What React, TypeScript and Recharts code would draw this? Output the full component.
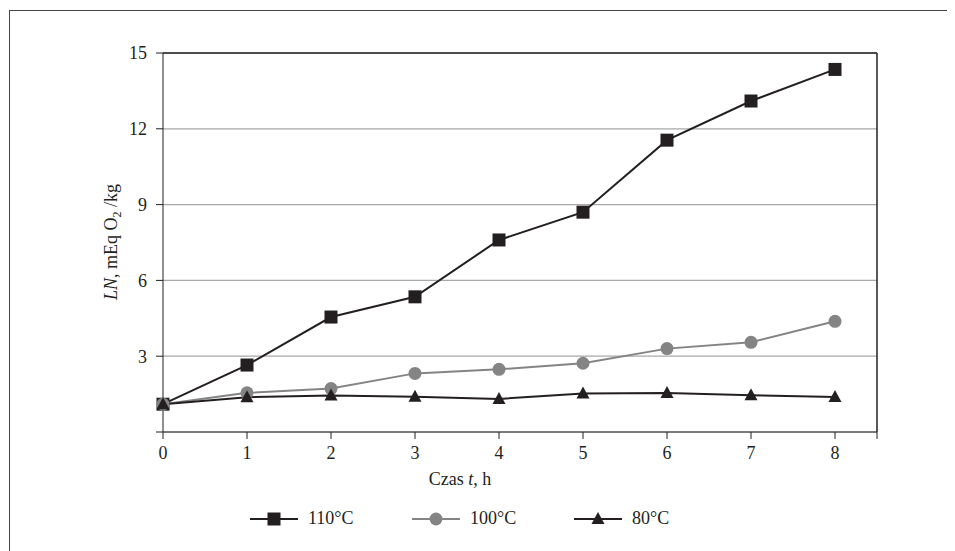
import { LineChart, Line, XAxis, YAxis, CartesianGrid, ReferenceLine, Legend } from 'recharts'

const hours = [0, 1, 2, 3, 4, 5, 6, 7, 8]
const t110 = [1.1, 2.65, 4.55, 5.35, 7.6, 8.7, 11.55, 13.1, 14.35]
const t100 = [1.1, 1.55, 1.72, 2.32, 2.48, 2.72, 3.3, 3.55, 4.38]
const t80 = [1.1, 1.38, 1.44, 1.4, 1.31, 1.52, 1.54, 1.45, 1.39]

const xTicks = [0, 1, 2, 3, 4, 5, 6, 7, 8, 8.5]
const yTicks = [0, 3, 6, 9, 12, 15]

const seriesInfo = [
  { key: 'a', name: '110°C', color: '#231f20', shape: 'square' },
  { key: 'b', name: '100°C', color: '#848484', shape: 'circle' },
  { key: 'c', name: '80°C', color: '#231f20', shape: 'triangle' },
]

const data = hours.map((h, i) => ({ h, a: t110[i], b: t100[i], c: t80[i] }))

const FONT = '"Liberation Serif", "Times New Roman", serif'
const INK = '#231f20'

function Marker({ shape, cx, cy, color }: { shape: string; cx: number; cy: number; color: string }) {
  if (cx == null || cy == null) return null
  if (shape === 'square') return <rect x={cx - 6.5} y={cy - 6.5} width={13} height={13} fill={color} />
  if (shape === 'circle') return <circle cx={cx} cy={cy} r={6.5} fill={color} />
  return <path d={`M${cx},${cy - 7} L${cx + 6.5},${cy + 5} L${cx - 6.5},${cy + 5} Z`} fill={color} />
}

function LegendBox() {
  return (
    <div style={{ display: 'flex', paddingLeft: 242, fontFamily: FONT, fontSize: 18, color: INK }}>
      {seriesInfo.map((s) => (
        <div key={s.key} style={{ width: 162, display: 'flex', alignItems: 'center' }}>
          <svg width={48} height={16}>
            <line x1={0} y1={8} x2={48} y2={8} stroke={s.color} strokeWidth={2} />
            <Marker shape={s.shape} cx={24} cy={8} color={s.color} />
          </svg>
          <span style={{ marginLeft: 10 }}>{s.name}</span>
        </div>
      ))}
    </div>
  )
}

export default function App() {
  return (
    <div style={{ position: 'relative', width: 947, height: 543, overflow: 'hidden', fontFamily: FONT }}>
      <div
        style={{
          position: 'absolute',
          left: 1,
          top: 2,
          width: 980,
          height: 560,
          border: '1.5px solid #444',
        }}
      />
      <LineChart width={947} height={543} data={data} margin={{ top: 45, right: 78, left: 95, bottom: 89 }}>
        <CartesianGrid vertical={false} stroke="#a8a8a8" strokeWidth={1.2} />
        <XAxis
          dataKey="h"
          type="number"
          domain={[0, 8.5]}
          ticks={xTicks}
          height={30}
          tickSize={7}
          tickMargin={7}
          tickFormatter={(v: number) => (v === 8.5 ? '' : String(v))}
          stroke={INK}
          tick={{ fill: INK, fontSize: 18, fontFamily: FONT }}
          label={{
            content: () => (
              <text x={452} y={477} textAnchor="middle" fill={INK} fontSize={18} fontFamily={FONT}>
                Czas <tspan fontStyle="italic">t</tspan>, h
              </text>
            ),
          }}
        />
        <YAxis
          type="number"
          domain={[0, 15]}
          ticks={yTicks}
          width={60}
          tickSize={7}
          tickMargin={9}
          tickFormatter={(v: number) => (v === 0 ? '' : String(v))}
          stroke={INK}
          tick={{ fill: INK, fontSize: 18, fontFamily: FONT }}
          label={{
            content: () => (
              <text
                x={109}
                y={234}
                transform="rotate(-90 109 234)"
                textAnchor="middle"
                fill={INK}
                fontSize={18}
                fontFamily={FONT}
              >
                <tspan fontStyle="italic">LN</tspan>, mEq O<tspan fontSize={12} dy={4}>2</tspan>
                <tspan dy={-4}> /kg</tspan>
              </text>
            ),
          }}
        />
        <ReferenceLine y={15} stroke={INK} strokeWidth={1.5} />
        <ReferenceLine x={8.5} stroke={INK} strokeWidth={1.5} />
        {seriesInfo.map((s) => (
          <Line
            key={s.key}
            dataKey={s.key}
            name={s.name}
            type="linear"
            stroke={s.color}
            strokeWidth={2}
            isAnimationActive={false}
            dot={(p: any) => <Marker key={p.index} shape={s.shape} cx={p.cx} cy={p.cy} color={s.color} />}
            activeDot={false}
          />
        ))}
        <Legend
          layout="horizontal"
          verticalAlign="middle"
          align="center"
          content={() => <LegendBox />}
          wrapperStyle={{ top: 500, left: 0, width: 947, height: 22 }}
        />
      </LineChart>
    </div>
  )
}
